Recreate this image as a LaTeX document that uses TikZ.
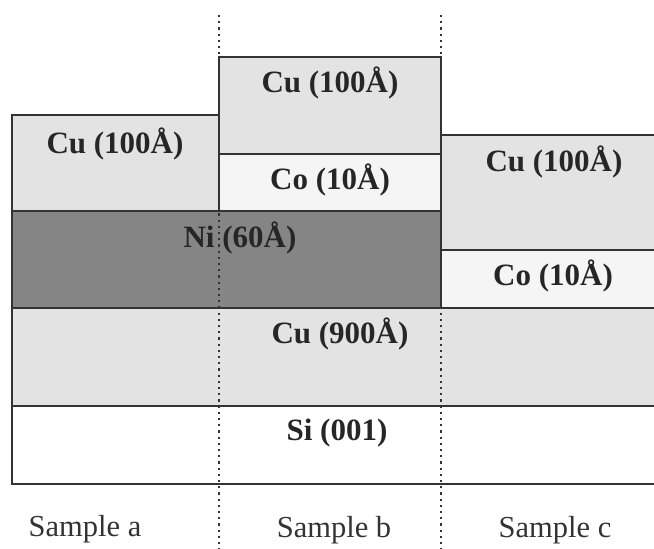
\documentclass[tikz,border=0pt]{standalone}
\usepackage{fontspec}
\setmainfont{Liberation Serif}
\begin{document}
\begin{tikzpicture}[x=1pt,y=-1pt,
  layer/.style={draw=black!80,line width=1.3pt},
  cu/.style={layer,fill=black!11},
  co/.style={layer,fill=black!4},
  ni/.style={layer,fill=black!48},
  si/.style={layer,fill=white},
  lbl/.style={anchor=base,inner sep=0pt,font=\bfseries\fontsize{31}{36}\selectfont,text=black!85},
  smp/.style={anchor=base,inner sep=0pt,font=\fontsize{30.5}{36}\selectfont,text=black!80},
  divider/.style={black!80,line width=1.5pt,dash pattern=on 2.2pt off 4pt}]
\useasboundingbox (0,0) rectangle (654,549);
\clip (0,0) rectangle (654,549);
% layers
\draw[si] (12,406) rectangle (670,484);
\draw[cu] (12,308) rectangle (670,406);
\draw[ni] (12,211) rectangle (441,308);
\draw[cu] (12,115) rectangle (219,211);
\draw[co] (219,154) rectangle (441,211);
\draw[cu] (219,57) rectangle (441,154);
\draw[co] (441,250) rectangle (670,308);
\draw[cu] (441,135) rectangle (670,250);
% dividers
\coordinate (d1t) at (219,15);
\coordinate (d1b) at (219,549);
\coordinate (d2t) at (441,15);
\coordinate (d2b) at (441,549);
\draw[divider] (d1t) -- (d1b);
\draw[divider] (d2t) -- (d2b);
% labels
\node[lbl] (cua) at (115,153) {Cu (100Å)};
\node[lbl] (cub) at (330,92) {Cu (100Å)};
\node[lbl] (cob) at (330,189) {Co (10Å)};
\node[lbl] (ni) at (240,247) {Ni (60Å)};
\node[lbl] (cuc) at (554,171) {Cu (100Å)};
\node[lbl] (coc) at (553,285) {Co (10Å)};
\node[lbl] (cu9) at (340,343) {Cu (900Å)};
\node[lbl] (si) at (337,440) {Si (001)};
\node[smp] (sa) at (85,536) {Sample a};
\node[smp] (sb) at (334,537) {Sample b};
\node[smp] (sc) at (555,537) {Sample c};
\end{tikzpicture}
\end{document}
